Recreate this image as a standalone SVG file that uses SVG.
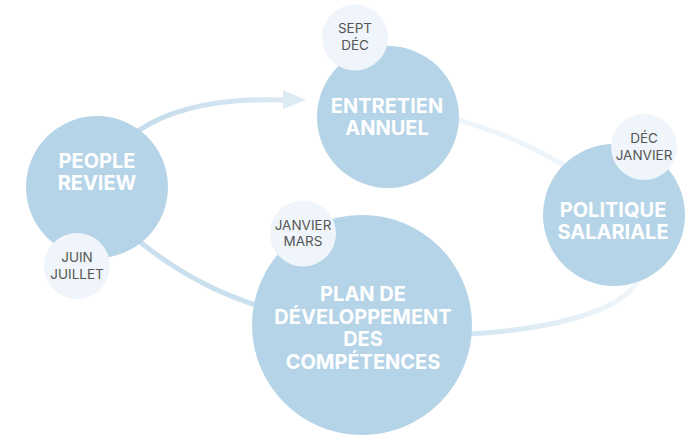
<svg xmlns="http://www.w3.org/2000/svg" width="693" height="437" viewBox="0 0 693 437">
<defs>
<style>
.big{fill:#b5d4e7}
.small{fill:#eff5fa}
.bt{font-family:Inter,"Liberation Sans",sans-serif;font-weight:700;font-size:20px;fill:#ffffff;text-anchor:middle}
.st{font-family:Inter,"Liberation Sans",sans-serif;font-weight:400;font-size:13.5px;fill:#555555;text-anchor:middle}
.c{fill:none;stroke-width:5;stroke-linecap:round}
</style>
<linearGradient id="g1" gradientUnits="userSpaceOnUse" x1="138" y1="130" x2="300" y2="99">
<stop offset="0" stop-color="#c4dcec"/>
<stop offset="1" stop-color="#dceaf4"/>
</linearGradient>
<linearGradient id="g3" gradientUnits="userSpaceOnUse" x1="637" y1="283" x2="470" y2="334">
<stop offset="0" stop-color="#f0f6fa"/>
<stop offset="1" stop-color="#d4e6f2"/>
</linearGradient>
</defs>
<g id="connectors">
<path class="c" d="M138,131 C175,106 230,98 286,100" stroke="url(#g1)"/>
<polygon points="283,90 306,100 283,109" fill="#dceaf4"/>
<path class="c" d="M458,120 C495,130 535,148 567,167" stroke="#eef5fa" stroke-width="4"/>
<path class="c" d="M637,283 C615,315 540,330 470,334" stroke="url(#g3)"/>
<path class="c" d="M140,242 C175,270 215,292 256,305" stroke="#cbe0ee"/>
</g>
<g id="people-review">
<circle class="big" cx="97" cy="187" r="71"/>
<text class="bt" x="97" y="168">PEOPLE</text>
<text class="bt" x="97" y="190">REVIEW</text>
<circle class="small" cx="77" cy="266" r="33"/>
<text class="st" x="77" y="261.5">JUIN</text>
<text class="st" x="77" y="279">JUILLET</text>
</g>
<g id="entretien-annuel">
<circle class="big" cx="388" cy="117" r="71"/>
<text class="bt" x="387" y="113">ENTRETIEN</text>
<text class="bt" x="387" y="135">ANNUEL</text>
<circle class="small" cx="355" cy="37.5" r="33"/>
<text class="st" x="355" y="33">SEPT</text>
<text class="st" x="355" y="50">DÉC</text>
</g>
<g id="politique-salariale">
<circle class="big" cx="614" cy="215" r="71"/>
<text class="bt" x="613" y="217">POLITIQUE</text>
<text class="bt" x="613" y="239">SALARIALE</text>
<circle class="small" cx="644" cy="147" r="33"/>
<text class="st" x="644" y="142.5">DÉC</text>
<text class="st" x="644" y="160">JANVIER</text>
</g>
<g id="plan-developpement">
<circle class="big" cx="362" cy="325" r="110"/>
<text class="bt" x="363" y="301">PLAN DE</text>
<text class="bt" x="363" y="323.5">DÉVELOPPEMENT</text>
<text class="bt" x="363" y="346">DES</text>
<text class="bt" x="363" y="368.5">COMPÉTENCES</text>
<circle class="small" cx="303" cy="233.5" r="33"/>
<text class="st" x="303" y="229.5">JANVIER</text>
<text class="st" x="303" y="246">MARS</text>
</g>
</svg>
